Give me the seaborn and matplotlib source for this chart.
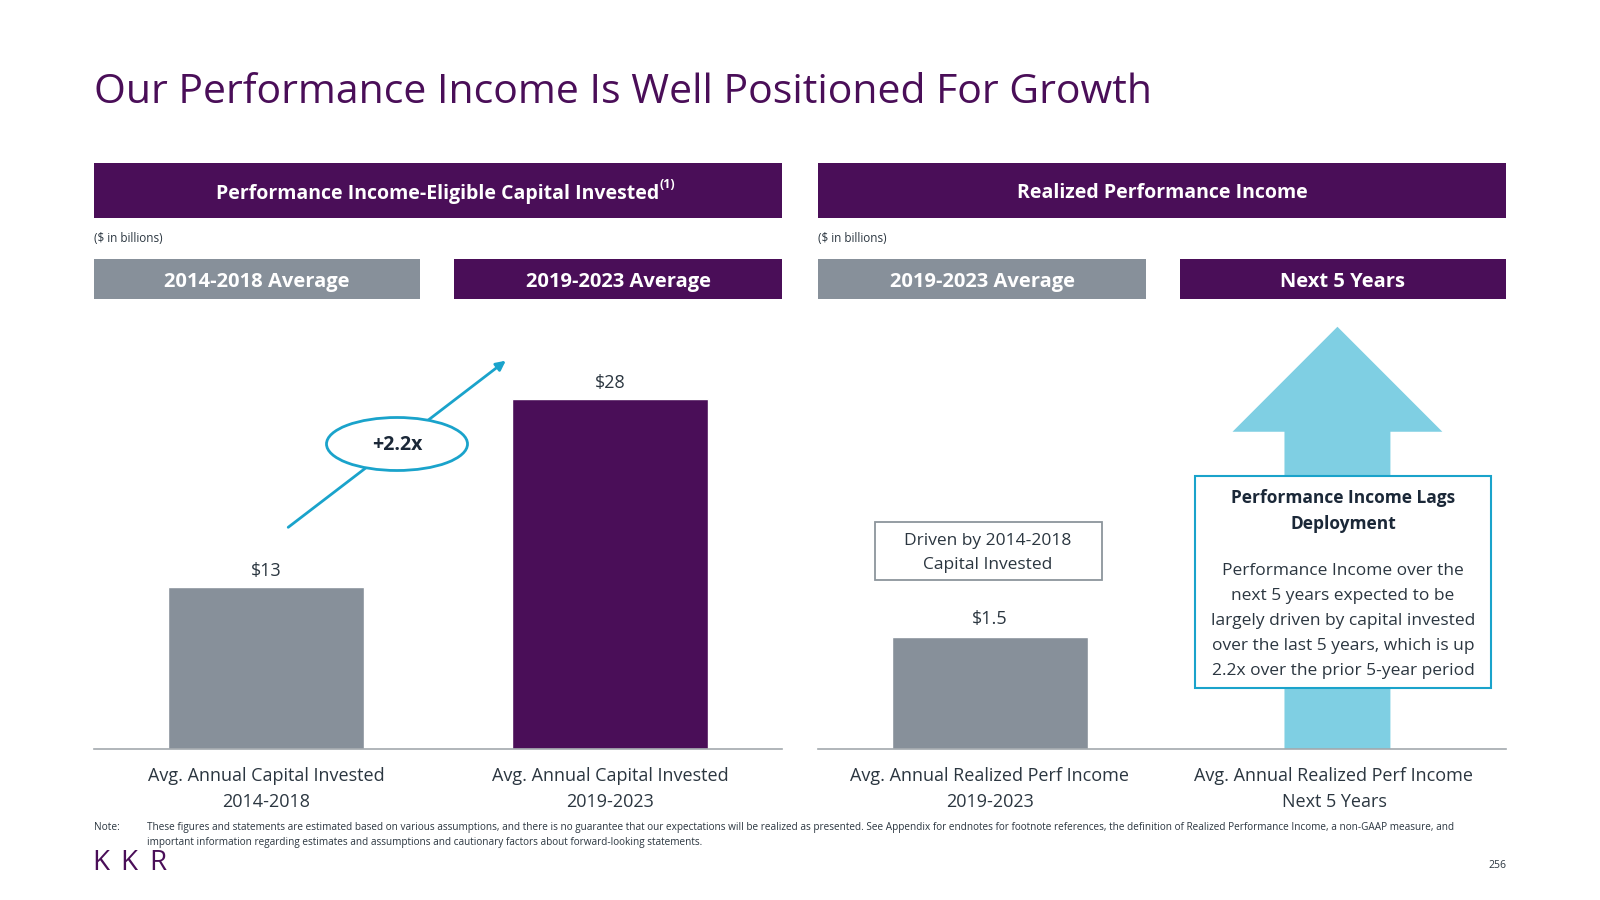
import numpy as np
import pandas as pd
import seaborn as sns
import matplotlib.pyplot as plt
from matplotlib.patches import Rectangle, Ellipse, Polygon, FancyArrowPatch

# ---------------- DATA ----------------
left_categories = ["Avg. Annual Capital Invested\n2014-2018",
                   "Avg. Annual Capital Invested\n2019-2023"]
left_values = [13, 28]
left_labels = ["$13", "$28"]

right_categories = ["Avg. Annual Realized Perf Income\n2019-2023",
                    "Avg. Annual Realized Perf Income\nNext 5 Years"]
right_values = [1.5]          # next 5 years shown only as an arrow
right_labels = ["$1.5"]

left_header = "Performance Income-Eligible Capital Invested"
right_header = "Realized Performance Income"
left_periods = ["2014-2018 Average", "2019-2023 Average"]
right_periods = ["2019-2023 Average", "Next 5 Years"]
growth_label = "+2.2x"

callout_title = "Performance Income Lags\nDeployment"
callout_body = ("Performance Income over the\nnext 5 years expected to be\n"
                "largely driven by capital invested\nover the last 5 years, which is up\n"
                "2.2x over the prior 5-year period")
driven_note = "Driven by 2014-2018\nCapital Invested"
note_text = ("These figures and statements are estimated based on various assumptions, and there is no guarantee that our "
             "expectations will be realized as presented. See Appendix for endnotes for footnote references, the definition of "
             "Realized Performance Income, a non-GAAP measure, and\nimportant information regarding estimates and assumptions "
             "and cautionary factors about forward-looking statements.")

# ---------------- STYLE ----------------
PURPLE = "#4A0E58"
GRAY = "#87909A"
LIGHT_BLUE = "#7FCFE3"
CYAN = "#1AA3CB"
TEXT = "#2B3640"
W, H = 1600, 900

sns.set_style("white")
plt.rcParams["font.family"] = ["Open Sans", "DejaVu Sans"]


def fx(x):
    return x / W


def fy(y):
    return 1 - y / H


fig = plt.figure(figsize=(16, 9), dpi=100)

# title
fig.text(fx(94), fy(103), "Our Performance Income Is Well Positioned For Growth",
         fontsize=29.5, color=PURPLE, va="baseline", ha="left")

# header boxes
for x0, x1, y0, y1, col, txt, fs in [
    (94, 782, 163, 218, PURPLE, left_header, 14),
    (818, 1506, 163, 218, PURPLE, right_header, 14),
    (94, 420, 259, 299, GRAY, left_periods[0], 14.5),
    (454, 782, 259, 299, PURPLE, left_periods[1], 14.5),
    (818, 1146, 259, 299, GRAY, right_periods[0], 14.5),
    (1180, 1506, 259, 299, PURPLE, right_periods[1], 14.5),
]:
    fig.add_artist(Rectangle((fx(x0), fy(y1)), fx(x1) - fx(x0), fy(y0) - fy(y1),
                             transform=fig.transFigure, color=col, lw=0))
    t = fig.text(fx((x0 + x1) / 2), fy((y0 + y1) / 2 + 3), txt, color="white",
                 fontsize=fs, fontweight="bold", ha="center", va="center")
    if txt == left_header:
        hdr = t

for x in (94, 818):
    fig.text(fx(x), fy(238), "($ in billions)", fontsize=8.5, color=TEXT, va="center")

# ---------------- AXES ----------------
ax_l = fig.add_axes([fx(94), fy(749), 688 / W, 450 / H])
ax_r = fig.add_axes([fx(818), fy(749), 688 / W, 450 / H])

sns.barplot(x=left_categories, y=left_values, hue=left_categories,
            palette=[GRAY, PURPLE], saturation=1, width=0.57, legend=False, ax=ax_l)
ax_l.set_ylim(0, 36)
for cont, lab in zip(ax_l.containers, left_labels):
    ax_l.bar_label(cont, labels=[lab], padding=5, fontsize=13, color=TEXT)

df_r = pd.DataFrame({"cat": right_categories[:len(right_values)], "val": right_values})
sns.barplot(data=df_r, x="cat", y="val", order=right_categories, color=GRAY,
            saturation=1, width=0.57, ax=ax_r)
ax_r.set_ylim(0, 6)
ax_r.bar_label(ax_r.containers[0], labels=right_labels, padding=6, fontsize=13, color=TEXT)

# projected growth arrow
cx, shaft, head = 1.01, 0.154, 0.305
head_base, tip = 4.23, 5.63
arrow_pts = [(cx - shaft, 0), (cx - shaft, head_base), (cx - head, head_base), (cx, tip),
             (cx + head, head_base), (cx + shaft, head_base), (cx + shaft, 0)]
ax_r.add_patch(Polygon(arrow_pts, closed=True, color=LIGHT_BLUE, lw=0, clip_on=False))

for ax in (ax_l, ax_r):
    ax.set_xlim(-0.5, 1.5)
    ax.set_xlabel("")
    ax.set_ylabel("")
    ax.set_yticks([])
    ax.tick_params(axis="x", length=0, pad=13, labelsize=13, labelcolor=TEXT)
    for lbl in ax.get_xticklabels():
        lbl.set_linespacing(1.6)
    for s in ("top", "left", "right"):
        ax.spines[s].set_visible(False)
    ax.spines["bottom"].set_color("#A3A9AE")
    ax.spines["bottom"].set_linewidth(1.2)

# growth arrow + ellipse
fig.add_artist(FancyArrowPatch((fx(286), fy(529)), (fx(508), fy(359)),
                               transform=fig.transFigure, arrowstyle="-|>",
                               mutation_scale=14, color=CYAN, lw=2, zorder=4))
fig.add_artist(Ellipse((fx(397), fy(444)), 141 / W, 53 / H, transform=fig.transFigure,
                       facecolor="white", edgecolor=CYAN, lw=2, zorder=5))
fig.text(fx(397), fy(445), growth_label, fontsize=14, fontweight="bold", color="#1B2838",
         ha="center", va="center", zorder=6)

# driven-by box
fig.add_artist(Rectangle((fx(875), fy(580)), 227 / W, 58 / H, transform=fig.transFigure,
                         facecolor="white", edgecolor="#8C959C", lw=1.3, zorder=5))
fig.text(fx(988), fy(553), driven_note, fontsize=12.5, color=TEXT, ha="center",
         va="center", linespacing=1.65, zorder=6)

# callout box
fig.add_artist(Rectangle((fx(1195), fy(688)), 296 / W, 212 / H, transform=fig.transFigure,
                         facecolor="white", edgecolor=CYAN, lw=1.5, zorder=5))
fig.text(fx(1343), fy(511), callout_title, fontsize=12.5, fontweight="bold", color="#1B2838",
         ha="center", va="center", linespacing=1.55, zorder=6)
fig.text(fx(1343), fy(621), callout_body, fontsize=12.5, color=TEXT,
         ha="center", va="center", linespacing=1.74, zorder=6)

# footer
fig.text(fx(94), fy(828), "Note:", fontsize=7.3, color=TEXT, va="center")
fig.text(fx(147), fy(835), note_text, fontsize=7.2, color=TEXT, va="center", linespacing=1.4)
for x, ch in zip((92, 120, 149), "KKR"):
    fig.text(fx(x), fy(863), ch, fontsize=20, color=PURPLE, va="center", fontweight="normal")
fig.text(fx(1506), fy(866), "256", fontsize=7.5, color=TEXT, va="center", ha="right")

# superscript on the left header
fig.canvas.draw()
bb = hdr.get_window_extent()
fig.text(bb.x1 / W, fy(185), "(1)", fontsize=9, fontweight="bold", color="white",
         va="center", ha="left")

fig.savefig("out.png", dpi=100)
